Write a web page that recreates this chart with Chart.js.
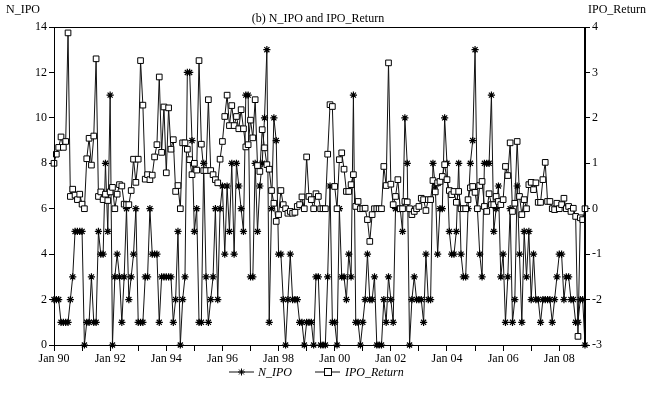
<!DOCTYPE html>
<html>
<head>
<meta charset="utf-8">
<script src="https://cdn.jsdelivr.net/npm/chart.js@4.4.1/dist/chart.umd.min.js"></script>
<style>
  html, body { margin: 0; padding: 0; background: #fff; }
  #wrap { width: 654px; height: 409px; position: relative; }
</style>
</head>
<body>
<div id="wrap"><canvas id="chart"></canvas></div>
<script>
// monthly observations, Jan 1990 .. Dec 2008 (index 0 = Jan 90)
const tickLabels = ['Jan 90', 'Jan 92', 'Jan 94', 'Jan 96', 'Jan 98', 'Jan 00', 'Jan 02', 'Jan 04', 'Jan 06', 'Jan 08'];

const nIpo = [
  2,2,2,1,1,1,1,2,3,5,5,5,5,0,1,1,3,1,1,5,4,4,8,5,11,0,3,4,3,1,3,
  6,2,3,4,6,1,1,1,3,3,6,4,4,4,1,3,3,3,3,3,1,2,5,0,2,3,12,12,9,5,
  6,1,1,8,3,1,2,3,6,2,6,7,4,7,5,8,4,8,7,6,5,11,11,3,3,8,5,7,8,10,
  13,1,6,10,9,4,4,2,0,2,4,2,2,2,1,1,0,1,1,1,0,3,3,0,0,0,3,7,1,
  1,0,6,3,3,2,4,3,11,1,1,0,1,2,4,2,2,3,0,0,0,2,1,3,2,1,6,6,6,5,10,
  8,0,2,3,2,2,2,1,4,2,2,8,7,4,6,6,10,8,5,4,4,5,8,4,3,3,6,8,9,13,
  6,4,3,8,8,8,11,5,6,7,3,4,1,3,6,1,2,7,4,1,5,3,5,2,4,2,2,1,2,2,
  2,2,1,2,3,4,4,2,3,3,2,2,1,1,2,2,0
];

const ipoReturn = [
  1.0,1.2,1.35,1.58,1.35,1.48,3.87,0.27,0.43,0.3,0.2,0.32,0.1,0,1.1,1.55,0.96,1.6,3.3,0.27,0.37,0.2,0.32,0.18,0.37,0.47,0,0.32,0.53,0.5,0.1,
  0.09,0.09,0.4,1.09,0.58,1.09,3.26,2.28,0.65,0.75,0.64,0.74,1.14,1.41,2.9,1.24,2.24,0.79,2.22,1.31,1.52,0.38,0.51,0,1.45,1.45,1.31,1.08,0.75,1.0,
  0.85,
  3.26,1.42,0.84,0.84,2.4,0.84,0.75,0.64,0.57,1.09,1.48,2.03,2.5,1.83,2.27,1.83,2.03,1.76,2.18,1.76,1.36,1.41,1.95,1.56,2.4,0.95,0.82,1.74,
  1.34,0.97,0.87,0.4,0.12,-0.28,-0.13,0.4,0.09,0,-0.1,-0.06,-0.1,-0.08,0.05,0.09,0.26,0,1.14,0.27,0.2,0,0.33,0.27,0,0,0,1.2,2.29,
  2.25,0.49,0,1.08,1.23,0.87,0.38,0.38,0.53,0.75,0.05,0.16,0,0,0.01,-0.24,-0.72,-0.13,0,0,0,0,0.93,0.51,3.21,0.54,0.09,0.27,0.64,0,0,0.16,
  0.15,0,-0.13,-0.06,0,0.05,0.23,0.2,-0.04,0.2,0.2,0.62,0.37,0.57,0.6,0.71,0.97,0.64,0.4,0.31,0.38,0.14,0.38,0,0,0,0.2,0.46,0.49,
  0.36,0,0.51,0.6,0.05,-0.06,0.33,0.09,0.09,0.27,0.16,0.09,0.2,0.93,0.73,1.45,-0.06,0.12,1.48,0.27,-0.13,0.2,0,0.53,0.58,0.42,0.57,0.14,0.14,0.64,1.02,
  0.16,0.16,0,-0.02,0.12,0,0.09,0.23,0,0.05,-0.06,0.01,-0.17,-2.81,-0.2,-0.24,0
];

const FONT = '"Liberation Serif", "Times New Roman", serif';

// titles, top frame line and the legend are painted by hand
const decorations = {
    id: 'decorations',
    afterDraw(chart) {
        const ctx = chart.ctx;
        const a = chart.chartArea;
        ctx.save();
        ctx.strokeStyle = '#000';
        ctx.lineWidth = 1;
        ctx.strokeRect(a.left + 0.5, a.top + 0.5, a.right - a.left - 1, a.bottom - a.top);

        ctx.fillStyle = '#000';
        ctx.font = '12px ' + FONT;
        ctx.textBaseline = 'middle';
        ctx.textAlign = 'left';
        ctx.fillText('N_IPO', 6, 10);
        ctx.textAlign = 'right';
        ctx.fillText('IPO_Return', 646, 10);
        ctx.textAlign = 'center';
        ctx.fillText('(b) N_IPO and IPO_Return', 318, 19);

        // legend
        const ly = 372;
        ctx.strokeStyle = '#111';
        ctx.beginPath();
        ctx.moveTo(229, ly); ctx.lineTo(254, ly);
        ctx.moveTo(315, ly); ctx.lineTo(340, ly);
        ctx.stroke();
        drawStar(ctx, 241.5, ly, 3.5);
        ctx.fillStyle = '#fff';
        ctx.strokeStyle = '#000';
        ctx.fillRect(324.5, ly - 3.5, 7, 7);
        ctx.strokeRect(324.5, ly - 3.5, 7, 7);
        ctx.fillStyle = '#000';
        ctx.font = 'italic 12px ' + FONT;
        ctx.textAlign = 'left';
        ctx.fillText('N_IPO', 258, ly + 1);
        ctx.fillText('IPO_Return', 345, ly + 1);
        ctx.restore();
    }
};

function drawStar(ctx, x, y, r) {
    ctx.save();
    ctx.strokeStyle = '#000';
    ctx.beginPath();
    for (let k = 0; k < 4; k++) {
        const ang = k * Math.PI / 4;
        ctx.moveTo(x - r * Math.cos(ang), y - r * Math.sin(ang));
        ctx.lineTo(x + r * Math.cos(ang), y + r * Math.sin(ang));
    }
    ctx.stroke();
    ctx.restore();
}

const nPoints = nIpo.map((v, i) => ({ x: i, y: v }));
const rPoints = ipoReturn.map((v, i) => ({ x: i, y: v }));

new Chart(document.getElementById('chart'), {
    type: 'line',
    data: {
        datasets: [{
            label: 'N_IPO',
            data: nPoints,
            yAxisID: 'y',
            borderColor: '#111',
            borderWidth: 1,
            pointStyle: 'star',
            pointRadius: 3.6,
            pointBorderColor: '#000',
            pointBorderWidth: 1.2,
            pointBackgroundColor: '#000',
            tension: 0,
            clip: false,
            order: 2
        }, {
            label: 'IPO_Return',
            data: rPoints,
            yAxisID: 'y1',
            borderColor: '#111',
            borderWidth: 1,
            pointStyle: 'rect',
            pointRadius: 4,
            pointBorderColor: '#000',
            pointBorderWidth: 1,
            pointBackgroundColor: '#fff',
            tension: 0,
            clip: false,
            order: 1
        }]
    },
    options: {
        responsive: true,
        maintainAspectRatio: false,
        animation: false,
        layout: { padding: { top: 27, left: 0, right: 0, bottom: 0 } },
        plugins: {
            legend: { display: false },
            tooltip: { enabled: false }
        },
        scales: {
            x: {
                type: 'linear',
                min: 0,
                max: nIpo.length - 1,
                afterBuildTicks: scale => {
                    const t = [];
                    for (let m = 0; m < nIpo.length; m += 12) t.push({ value: m });
                    scale.ticks = t;
                },
                afterFit: scale => { scale.height = 64; },
                ticks: {
                    autoSkip: false,
                    maxRotation: 0,
                    padding: 1,
                    color: '#000',
                    font: { family: FONT, size: 12 },
                    callback: v => (v % 24 === 0 ? tickLabels[v / 24] : '')
                },
                grid: { drawOnChartArea: false, tickLength: 6, color: '#000' },
                border: { color: '#000' }
            },
            y: {
                position: 'left',
                min: 0,
                max: 14,
                afterFit: scale => { scale.width = 54; },
                ticks: {
                    stepSize: 2,
                    padding: 2,
                    color: '#000',
                    font: { family: FONT, size: 12 }
                },
                grid: { drawOnChartArea: false, tickLength: 5, color: '#000' },
                border: { color: '#000' }
            },
            y1: {
                position: 'right',
                min: -3,
                max: 4,
                afterFit: scale => { scale.width = 69; },
                ticks: {
                    stepSize: 1,
                    padding: 2,
                    color: '#000',
                    font: { family: FONT, size: 12 }
                },
                grid: { drawOnChartArea: false, tickLength: 5, color: '#000' },
                border: { color: '#000' }
            }
        }
    },
    plugins: [decorations]
});
</script>
</body>
</html>
